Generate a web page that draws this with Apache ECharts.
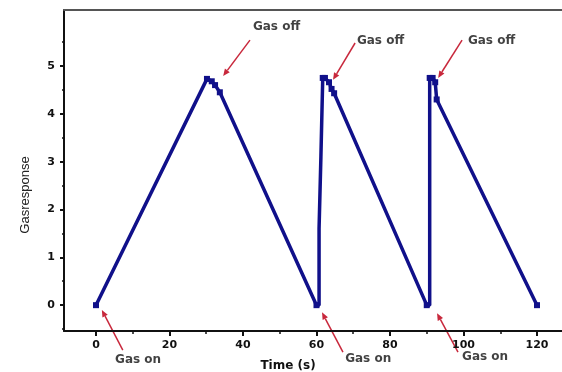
<!DOCTYPE html>
<html><head><meta charset="utf-8">
<script src="https://cdn.jsdelivr.net/npm/echarts@6/dist/echarts.min.js"></script>
<style>html,body{margin:0;padding:0;background:#fff}#c{width:562px;height:372px}</style>
</head><body><div id="c"></div>
<script>
// Measured response curve (time in s, response)
const timeS = [0, 30.2, 31.5, 32.4, 33.7, 60.0, 60.7, 60.7, 61.2, 61.2, 61.7, 61.7, 62.3, 63.4, 64.1, 64.8, 90.0, 90.8, 90.8, 91.6, 92.3, 92.7, 120];
const response = [0, 4.73, 4.68, 4.6, 4.45, 0, 0, 1.6, 1.6, 3.1, 3.1, 4.75, 4.75, 4.66, 4.52, 4.43, 0, 0, 4.75, 4.75, 4.66, 4.3, 0];
const markerShown = [1, 1, 1, 1, 1, 1, 0, 0, 0, 0, 0, 1, 1, 1, 1, 1, 1, 0, 1, 1, 1, 1, 1];
// tick labels
const xMajor = [0, 20, 40, 60, 80, 100, 120];
const xMinor = [10, 30, 50, 70, 90, 110];
const yMajor = [0, 1, 2, 3, 4, 5];
const yMinor = [-0.5, 0.5, 1.5, 2.5, 3.5, 4.5, 5.5];
// annotations: text, text anchor (x,y), arrow start, arrow tip
const noteText = ['Gas off', 'Gas off', 'Gas off', 'Gas on', 'Gas on', 'Gas on'];
const noteX = [42.7, 71.0, 101.2, 5.2, 67.8, 99.6];
const noteY = [5.82, 5.52, 5.52, -1.15, -1.13, -1.09];
const arrowFromX = [41.9, 70.5, 99.6, 7.3, 67.2, 98.5];
const arrowFromY = [5.54, 5.48, 5.54, -0.94, -0.98, -0.98];
const arrowToX = [34.6, 64.5, 93.1, 1.6, 61.5, 92.8];
const arrowToY = [4.79, 4.71, 4.75, -0.10, -0.15, -0.17];

const chart = echarts.init(document.getElementById('c'), null, {renderer: 'canvas'});
const XMIN = -8.7, XMAX = 126.8, YMIN = -0.54, YMAX = 6.17;
const axisCol = '#111';
const lineCol = '#10108a';
const arrowCol = '#c8283c';
const lblFont = {color: '#111', fontWeight: 'bold', fontSize: 11, fontFamily: 'DejaVu Sans'};

const mainData = timeS.map((t, i) => ({value: [t, response[i]], symbol: markerShown[i] ? 'rect' : 'none'}));
const notes = noteText.map((s, i) => [noteX[i], noteY[i], s]);

chart.setOption({
  animation: false,
  backgroundColor: '#fff',
  grid: {left: 64, right: 0, top: 10, bottom: 41},
  xAxis: [
    {type: 'value', min: XMIN, max: XMAX, position: 'bottom', splitLine: {show: false},
     axisLine: {show: true, onZero: false, lineStyle: {color: axisCol, width: 2}},
     axisTick: {show: true, customValues: xMajor, length: 5, lineStyle: {color: axisCol, width: 2}},
     axisLabel: {show: true, customValues: xMajor, margin: 9, ...lblFont}},
    {type: 'value', min: XMIN, max: XMAX, position: 'bottom', splitLine: {show: false},
     axisLine: {show: false, onZero: false},
     axisTick: {show: true, customValues: xMinor, length: 3, lineStyle: {color: axisCol, width: 1.5}},
     axisLabel: {show: false}},
    {type: 'value', min: XMIN, max: XMAX, position: 'top', splitLine: {show: false},
     axisLine: {show: true, onZero: false, lineStyle: {color: '#555', width: 2}},
     axisTick: {show: false}, axisLabel: {show: false}}
  ],
  yAxis: [
    {type: 'value', min: YMIN, max: YMAX, position: 'left', splitLine: {show: false},
     axisLine: {show: true, onZero: false, lineStyle: {color: axisCol, width: 2}},
     axisTick: {show: true, customValues: yMajor, length: 4, lineStyle: {color: axisCol, width: 2}},
     axisLabel: {show: true, customValues: yMajor, margin: 9, ...lblFont}},
    {type: 'value', min: YMIN, max: YMAX, position: 'left', splitLine: {show: false},
     axisLine: {show: false, onZero: false},
     axisTick: {show: true, customValues: yMinor, length: 2, lineStyle: {color: axisCol, width: 1.5}},
     axisLabel: {show: false}}
  ],
  series: [
    {type: 'line', data: mainData, xAxisIndex: 0, yAxisIndex: 0, clip: false,
     lineStyle: {color: lineCol, width: 3.5}, itemStyle: {color: lineCol},
     symbol: 'rect', symbolSize: 6, showSymbol: true},
    {type: 'scatter', data: notes, clip: false, symbolSize: 0, silent: true,
     label: {show: true, position: 'right', distance: 0, formatter: p => p.value[2],
       color: '#111', fontWeight: 'bold', fontSize: 12, fontFamily: 'DejaVu Sans'}}
  ]
});

// arrows: positioned through the chart's own scales
const g = [];
arrowFromX.forEach((x, i) => {
  const a = chart.convertToPixel({xAxisIndex: 0, yAxisIndex: 0}, [x, arrowFromY[i]]);
  const b = chart.convertToPixel({xAxisIndex: 0, yAxisIndex: 0}, [arrowToX[i], arrowToY[i]]);
  const ang = Math.atan2(b[1] - a[1], b[0] - a[0]);
  const L = 7, W = 3;
  const bx = b[0] - L * Math.cos(ang), by = b[1] - L * Math.sin(ang);
  g.push({type: 'line', silent: true, shape: {x1: a[0], y1: a[1], x2: bx, y2: by}, style: {stroke: arrowCol, lineWidth: 1.5}});
  g.push({type: 'polygon', silent: true, shape: {points: [
    [b[0], b[1]],
    [bx + W * Math.sin(ang), by - W * Math.cos(ang)],
    [bx - W * Math.sin(ang), by + W * Math.cos(ang)]]}, style: {fill: arrowCol}});
});
g.push({type: 'text', x: 288, y: 366, style: {text: 'Time (s)', fill: '#111', font: 'bold 12px DejaVu Sans', textAlign: 'center', textVerticalAlign: 'middle'}});
g.push({type: 'text', x: 25, y: 195, rotation: Math.PI / 2, style: {text: 'Gasresponse', fill: '#222', font: '13px Liberation Sans', textAlign: 'center', textVerticalAlign: 'middle'}});
chart.setOption({graphic: g});
</script></body></html>
